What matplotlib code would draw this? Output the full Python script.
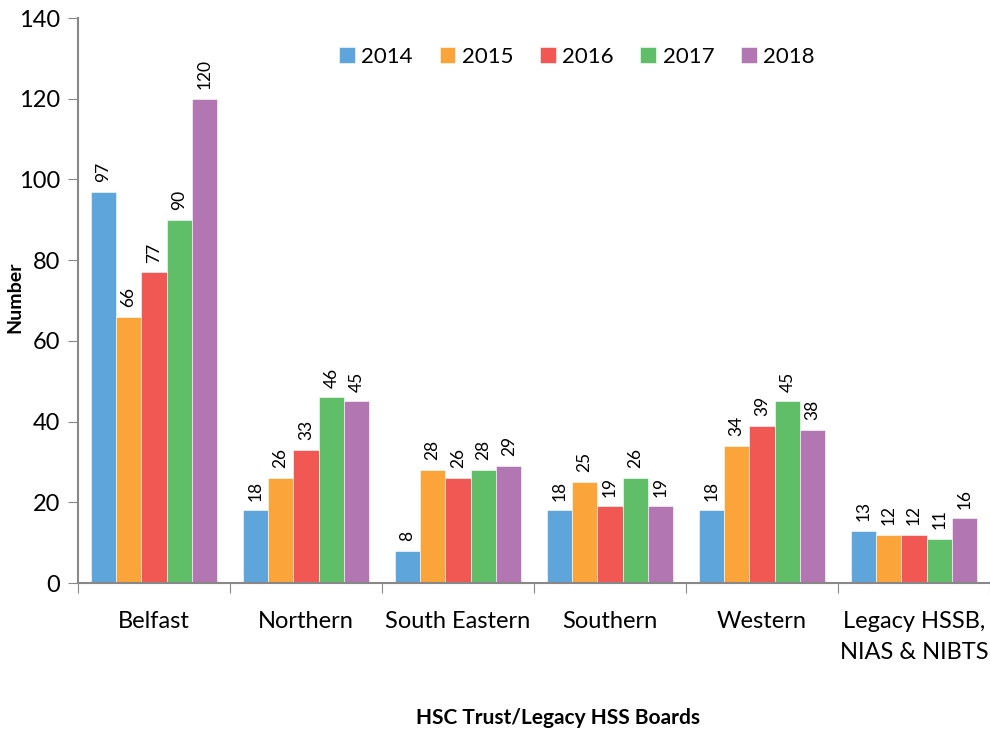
import matplotlib.pyplot as plt
import numpy as np

plt.rcParams['font.family'] = ['Lato', 'DejaVu Sans']

categories = ['Belfast', 'Northern', 'South Eastern', 'Southern', 'Western',
              'Legacy HSSB,\nNIAS & NIBTS']
years = ['2014', '2015', '2016', '2017', '2018']
v2014 = [97, 18, 8, 18, 18, 13]
v2015 = [66, 26, 28, 25, 34, 12]
v2016 = [77, 33, 26, 19, 39, 12]
v2017 = [90, 46, 28, 26, 45, 11]
v2018 = [120, 45, 29, 19, 38, 16]
series = [v2014, v2015, v2016, v2017, v2018]
colors = ['#5DA5DA', '#FAA43A', '#F15854', '#60BD68', '#B276B2']

fig = plt.figure(figsize=(9.9, 7.33), dpi=100)
ax = fig.add_axes([78 / 990, 1 - 583 / 733, 912 / 990, (583 - 18) / 733])

x = np.arange(len(categories)) + 0.5
w = 0.167
for i, (vals, c, yr) in enumerate(zip(series, colors, years)):
    xs = x + (i - 2) * w
    ax.bar(xs, vals, width=w, color=c, edgecolor='white', linewidth=0.4, label=yr)
    for xb, v in zip(xs, vals):
        ax.annotate(str(v), (xb, v), xytext=(0, 7), textcoords='offset points',
                    rotation=90, ha='center', va='bottom', fontsize=12.5)

ax.set_xlim(0, 6)
ax.set_ylim(0, 140)
ax.set_yticks(range(0, 141, 20))
ax.set_xticks(range(0, 7))
ax.set_xticklabels([])
ax.set_xticks(x, minor=True)
ax.set_xticklabels(categories, minor=True, fontsize=17, linespacing=1.6)
ax.tick_params(axis='x', which='minor', length=0, pad=20)
ax.tick_params(axis='x', which='major', length=7, color='#888888', direction='out')
ax.tick_params(axis='y', length=7, color='#888888', labelsize=17, pad=6)
for s in ['top', 'right']:
    ax.spines[s].set_visible(False)
for s in ['left', 'bottom']:
    ax.spines[s].set_color('#888888')
    ax.spines[s].set_linewidth(1.5)

fig.text(15 / 990, 1 - 297 / 733, 'Number', rotation=90, ha='center', va='center',
         fontsize=14, fontweight='bold')
fig.text(558 / 990, 1 - 718 / 733, 'HSC Trust/Legacy HSS Boards', ha='center', va='center',
         fontsize=15, fontweight='bold')

fig.legend(loc='center', bbox_to_anchor=(577 / 990, 1 - 57 / 733), ncol=5, frameon=False,
           fontsize=16, handlelength=0.7, handleheight=0.7, handletextpad=0.3, columnspacing=1.2)

fig.savefig('out.png', dpi=100)
